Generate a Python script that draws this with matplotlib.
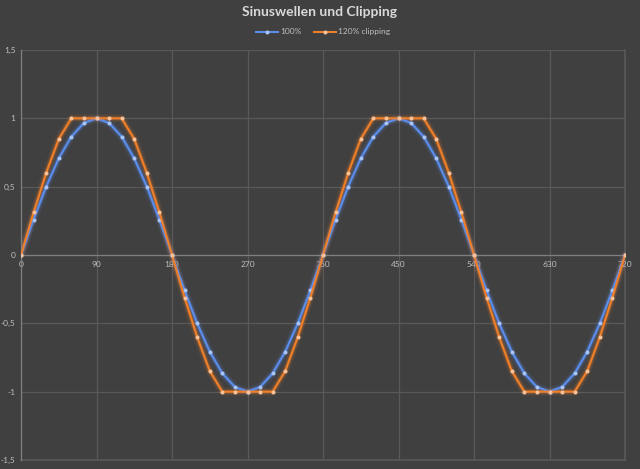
import matplotlib.pyplot as plt
from matplotlib.ticker import FuncFormatter

# Winkel in Grad, Schritt 15
winkel = list(range(0, 721, 15))

halbe_welle = [0, 0.259, 0.5, 0.707, 0.866, 0.966, 1, 0.966, 0.866, 0.707, 0.5, 0.259]
sinus_100 = (halbe_welle + [-v for v in halbe_welle]) * 2 + [0]

halbe_clip = [0, 0.311, 0.6, 0.849, 1, 1, 1, 1, 1, 0.849, 0.6, 0.311]
sinus_120 = (halbe_clip + [-v for v in halbe_clip]) * 2 + [0]

x_ticks = [0, 90, 180, 270, 360, 450, 540, 630, 720]
y_ticks = [-1.5, -1, -0.5, 0, 0.5, 1, 1.5]

bg = '#404040'
grid_col = '#595959'
text_col = '#BFBFBF'
blau = '#5B8DEB'
orange = '#F07F2A'

plt.rcParams['font.family'] = ['Lato', 'DejaVu Sans']

fig = plt.figure(figsize=(6.4, 4.69), dpi=100)
fig.patch.set_facecolor(bg)
ax = fig.add_axes([21 / 640, 9 / 469, 604 / 640, 410 / 469])
ax.set_facecolor(bg)

for werte, farbe, punkt, name in [(sinus_100, blau, '#A9C4F5', '100%'),
                                  (sinus_120, orange, '#F9C29A', '120% clipping')]:
    # weicher Leuchteffekt
    for lw, a in [(6, 0.07), (4, 0.12), (2.8, 0.18)]:
        ax.plot(winkel, werte, color=farbe, lw=lw, alpha=a, solid_capstyle='round', zorder=2)
    ax.plot(winkel, werte, color=farbe, lw=1.5, marker='o', markersize=1.9,
            markerfacecolor=punkt, markeredgecolor=punkt, label=name, zorder=3)

ax.set_xlim(0, 720)
ax.set_ylim(-1.5, 1.5)
ax.set_xticks(x_ticks)
ax.set_yticks(y_ticks)
ax.grid(True, color=grid_col, lw=0.9, zorder=0)

ax.yaxis.set_major_formatter(FuncFormatter(lambda v, p: ('%g' % v).replace('.', ',')))
ax.tick_params(axis='both', length=0, colors=text_col, labelsize=6)
ax.tick_params(axis='y', pad=4)
ax.tick_params(axis='x', pad=4)

for s in ['top', 'right']:
    ax.spines[s].set_visible(False)
ax.spines['bottom'].set_position(('data', 0))
ax.spines['bottom'].set_color('#7F7F7F')
ax.spines['bottom'].set_linewidth(0.9)
ax.spines['left'].set_color('#7F7F7F')
ax.spines['left'].set_linewidth(0.9)
ax.axhline(-1.5, color=grid_col, lw=1.2, zorder=1, clip_on=False)
ax.axvline(720, color=grid_col, lw=1.2, zorder=1, clip_on=False)

fig.text(0.5, 1 - 12 / 469, 'Sinuswellen und Clipping', ha='center', va='center',
         color='#D9D9D9', fontsize=10, fontweight='bold')
leg = ax.legend(loc='center', bbox_to_anchor=(0.5, (469 - 32 - 9) / 410), ncol=2,
                frameon=False, fontsize=6, handlelength=2.6, columnspacing=1.5,
                handletextpad=0.3, labelcolor=text_col)

fig.savefig('out.png', dpi=100, facecolor=bg)
